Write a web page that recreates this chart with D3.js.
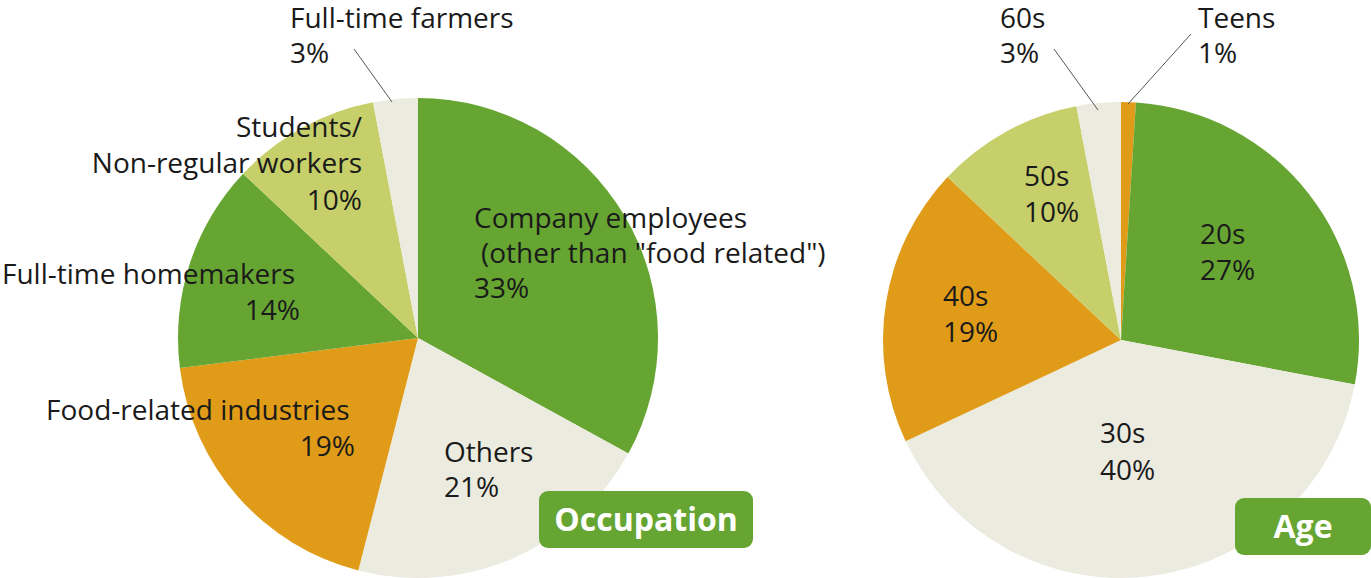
<!DOCTYPE html>
<html><head><meta charset="utf-8">
<script src="https://cdn.jsdelivr.net/npm/d3@7"></script>
<style>body{margin:0;background:#fff}svg{display:block}text{font-family:"Open Sans","Noto Sans",sans-serif;fill:#1a1a1a}</style>
</head><body>
<svg id="c" width="1371" height="578"></svg>
<script>
const occCategories = ["Company employees (other than \"food related\")","Others","Food-related industries","Full-time homemakers","Students/Non-regular workers","Full-time farmers"];
const occValues = [33,21,19,14,10,3];
const occColors = ["#66a532","#ecebe0","#e09c18","#66a532","#c6cf69","#ecebe0"];
const ageCategories = ["Teens","20s","30s","40s","50s","60s"];
const ageValues = [1,27,40,19,10,3];
const ageColors = ["#e09c18","#66a532","#ecebe0","#e09c18","#c6cf69","#ecebe0"];

const svg = d3.select("#c");
const pie = d3.pie().sort(null).value(d=>d);
const arc = d3.arc().innerRadius(0);

function drawPie(cx, cy, r, values, colors){
  const g = svg.append("g").attr("transform",`translate(${cx},${cy})`);
  g.selectAll("path").data(pie(values)).join("path")
    .attr("d", d=>arc.outerRadius(r)(d)).attr("fill",(d,i)=>colors[i]);
  return g;
}
drawPie(418,338,240,occValues,occColors);
drawPie(1121,340,238,ageValues,ageColors);

function label(lines, x, y, anchor, gap, xs){
  const t = svg.append("text").attr("x",x).attr("y",y).attr("text-anchor",anchor||"start").style("font-size","28px");
  lines.forEach((l,i)=>t.append("tspan").attr("x",xs?xs[i]:x).attr("dy",i?(gap||35):0).text(l));
}
function line(x1,y1,x2,y2){svg.append("line").attr("x1",x1).attr("y1",y1).attr("x2",x2).attr("y2",y2).attr("stroke","#555").attr("stroke-width",1);}

// Occupation labels
label(["Full-time farmers","3%"],290,28);
line(354,49,392,102);
label(["Students/","Non-regular workers"],362,137,"end",36);
label(["10%"],362,210,"end");
label(["Full-time homemakers"],2,284);
label(["14%"],300,320,"end");
label(["Food-related industries"],46,420);
label(["19%"],355,456,"end");
label(["Company employees","(other than \"food related\")","33%"],474,228,"start",35,[474,481,474]);
label(["Others","21%"],444,462);

// Age labels
label(["60s","3%"],1000,28);
line(1054,49,1098,110);
label(["Teens","1%"],1198,28);
line(1191,34,1128,104);
label(["50s","10%"],1024,186,"start",36);
label(["20s","27%"],1200,244,"start",36);
label(["40s","19%"],943,306,"start",36);
label(["30s","40%"],1100,443,"start",37);

function badge(x,y,w,h,txt){
  svg.append("rect").attr("x",x).attr("y",y).attr("width",w).attr("height",h).attr("rx",9).attr("fill","#66a532");
  svg.append("text").attr("x",x+w/2).attr("y",y+h/2+11).attr("text-anchor","middle")
    .style("font-size","32px").style("font-weight","bold").style("fill","#fff").text(txt);
}
badge(539,491,214,57,"Occupation");
badge(1235,498,136,57,"Age");
</script>
</body></html>
